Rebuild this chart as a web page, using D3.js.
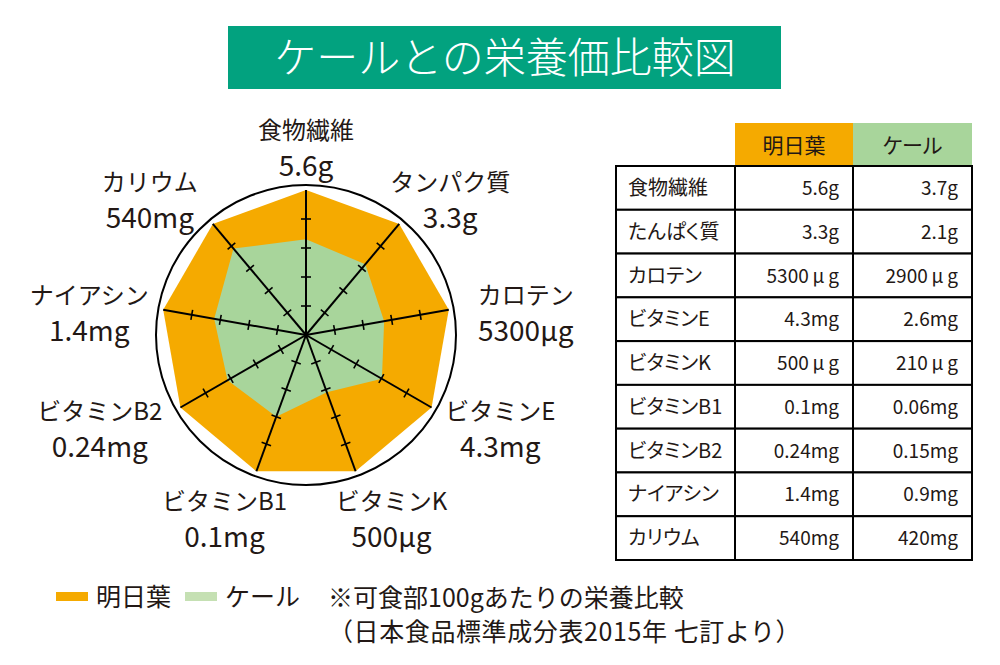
<!DOCTYPE html>
<html>
<head>
<meta charset="utf-8">
<script src="https://cdn.jsdelivr.net/npm/d3@7"></script>
<style>
  body { margin: 0; background: #fff; }
  svg { display: block; font-family: "Noto Sans CJK JP", "Noto Sans", sans-serif; }
  .palt { font-feature-settings: "palt"; }
</style>
</head>
<body>
<svg id="chart"></svg>
<script>
const categories = ['食物繊維', 'タンパク質', 'カロテン', 'ビタミンE', 'ビタミンK', 'ビタミンB1', 'ビタミンB2', 'ナイアシン', 'カリウム'];
const ashitaba = [5.6, 3.3, 5300, 4.3, 500, 0.1, 0.24, 1.4, 540];
const kale = [3.7, 2.1, 2900, 2.6, 210, 0.06, 0.15, 0.9, 420];
const radarUnits = ['g', 'g', 'μg', 'mg', 'μg', 'mg', 'mg', 'mg', 'mg'];

const tableNames = ['食物繊維', 'たんぱく質', 'カロテン', 'ビタミンE', 'ビタミンK', 'ビタミンB1', 'ビタミンB2', 'ナイアシン', 'カリウム'];
const tableUnits = ['g', 'g', '\u2009μ\u2009g', 'mg', '\u2009μ\u2009g', 'mg', 'mg', 'mg', 'mg'];
const seriesNames = ['明日葉', 'ケール'];
const tickFractions = [0.2, 0.4, 0.6, 0.8];

const width = 1000;
const height = 665;
const orange = '#f5aa00';
const green = '#a8d59b';
const ink = '#231815';

const svg = d3.select('#chart').attr('width', width).attr('height', height);

// title
svg.append('rect')
  .attr('x', 228).attr('y', 26).attr('width', 553).attr('height', 63)
  .attr('fill', '#02a27f');
svg.append('text')
  .attr('x', 505).attr('y', 73)
  .attr('text-anchor', 'middle')
  .attr('fill', '#fff')
  .attr('font-size', 42)
  .attr('font-weight', 300)
  .text('ケールとの栄養価比較図');

// radar
const cx = 306;
const cy = 335;
const radius = 145;

const angle = d3.scaleLinear()
  .domain([0, categories.length])
  .range([0, 2 * Math.PI]);

// each axis scaled to the ashitaba value
const rScales = ashitaba.map(v => d3.scaleLinear().domain([0, v]).range([0, radius]));

const point = (i, r) => [cx + Math.sin(angle(i)) * r, cy - Math.cos(angle(i)) * r];

const radar = svg.append('g');

radar.append('circle')
  .attr('cx', cx).attr('cy', cy).attr('r', 150)
  .attr('fill', 'none')
  .attr('stroke', '#000')
  .attr('stroke-width', 2);

const line = d3.line();

radar.append('path')
  .attr('d', line(ashitaba.map((v, i) => point(i, rScales[i](v)))) + 'Z')
  .attr('fill', orange);

radar.append('path')
  .attr('d', line(kale.map((v, i) => point(i, rScales[i](v)))) + 'Z')
  .attr('fill', green);

const axes = radar.selectAll('.axis')
  .data(categories)
  .enter()
  .append('g')
  .attr('class', 'axis')
  .attr('transform', (d, i) => `translate(${cx},${cy}) rotate(${angle(i) * 180 / Math.PI})`);

axes.append('line')
  .attr('x1', 0).attr('y1', 0)
  .attr('x2', 0).attr('y2', -radius)
  .attr('stroke', '#000')
  .attr('stroke-width', 2);

axes.selectAll('.tick')
  .data(tickFractions)
  .enter()
  .append('line')
  .attr('x1', -5).attr('x2', 5)
  .attr('y1', d => -d * radius)
  .attr('y2', d => -d * radius)
  .attr('stroke', '#000')
  .attr('stroke-width', 1.6);

// labels
const labelNudge = [[0, 7], [6, 15], [8, 15], [8, 3], [12, 9], [-8, 9], [-20, 3], [-5, 15], [-18, 15]];

const labels = radar.selectAll('.label')
  .data(categories)
  .enter()
  .append('g')
  .attr('class', 'label')
  .attr('transform', (d, i) => {
    const x = cx + Math.sin(angle(i)) * 215 + labelNudge[i][0];
    const y = cy - Math.cos(angle(i)) * 190 + labelNudge[i][1];
    return `translate(${x},${y})`;
  });

labels.append('text')
  .attr('y', -13)
  .attr('text-anchor', 'middle')
  .attr('font-size', 24)
  .attr('fill', ink)
  .text(d => d);

labels.append('text')
  .attr('y', 24)
  .attr('text-anchor', 'middle')
  .attr('font-size', 28)
  .attr('fill', ink)
  .text((d, i) => ashitaba[i] + radarUnits[i]);

// table
const tx = 616;
const colEdges = [616, 735, 853, 972];
const headTop = 123;
const bodyTop = 166;
const rowH = (560 - bodyTop) / tableNames.length;

const table = svg.append('g').attr('class', 'palt');

table.selectAll('.head')
  .data(seriesNames)
  .enter()
  .append('rect')
  .attr('x', (d, i) => colEdges[i + 1])
  .attr('y', headTop)
  .attr('width', (d, i) => colEdges[i + 2] - colEdges[i + 1])
  .attr('height', bodyTop - headTop)
  .attr('fill', (d, i) => i === 0 ? orange : green);

table.selectAll('.headText')
  .data(seriesNames)
  .enter()
  .append('text')
  .attr('x', (d, i) => (colEdges[i + 1] + colEdges[i + 2]) / 2)
  .attr('y', 153)
  .attr('text-anchor', 'middle')
  .attr('font-size', 21)
  .attr('fill', ink)
  .text(d => d);

const rows = table.selectAll('.row')
  .data(tableNames)
  .enter()
  .append('g')
  .attr('transform', (d, i) => `translate(0,${bodyTop + i * rowH})`);

rows.append('rect')
  .attr('x', tx)
  .attr('width', colEdges[3] - tx)
  .attr('height', rowH)
  .attr('fill', '#fff')
  .attr('stroke', '#000')
  .attr('stroke-width', 2);

rows.append('text')
  .attr('x', tx + 12)
  .attr('y', 29)
  .attr('font-size', 20)
  .attr('fill', ink)
  .text(d => d);

rows.append('text')
  .attr('x', colEdges[2] - 14)
  .attr('y', 29)
  .attr('text-anchor', 'end')
  .attr('font-size', 19)
  .attr('fill', ink)
  .text((d, i) => ashitaba[i] + tableUnits[i]);

rows.append('text')
  .attr('x', colEdges[3] - 14)
  .attr('y', 29)
  .attr('text-anchor', 'end')
  .attr('font-size', 19)
  .attr('fill', ink)
  .text((d, i) => kale[i] + tableUnits[i]);

table.selectAll('.vline')
  .data(colEdges)
  .enter()
  .append('line')
  .attr('x1', d => d).attr('x2', d => d)
  .attr('y1', bodyTop).attr('y2', 560)
  .attr('stroke', '#000')
  .attr('stroke-width', 2);

// legend
const legend = svg.append('g');
const legendX = [56, 185];
const legendColors = [orange, '#c5e0b3'];

legend.selectAll('rect')
  .data(seriesNames)
  .enter()
  .append('rect')
  .attr('x', (d, i) => legendX[i])
  .attr('y', 592)
  .attr('width', 32)
  .attr('height', 9)
  .attr('fill', (d, i) => legendColors[i]);

legend.selectAll('text')
  .data(seriesNames)
  .enter()
  .append('text')
  .attr('x', (d, i) => legendX[i] + 40)
  .attr('y', 606)
  .attr('font-size', 25)
  .attr('fill', ink)
  .text(d => d);

svg.append('text')
  .attr('x', 328).attr('y', 607)
  .attr('font-size', 25)
  .attr('fill', ink)
  .text('※可食部100gあたりの栄養比較');

svg.append('text')
  .attr('x', 328).attr('y', 641)
  .attr('font-size', 25)
  .attr('letter-spacing', 0.6)
  .attr('fill', ink)
  .text('（日本食品標準成分表2015年 七訂より）');
</script>
</body>
</html>
